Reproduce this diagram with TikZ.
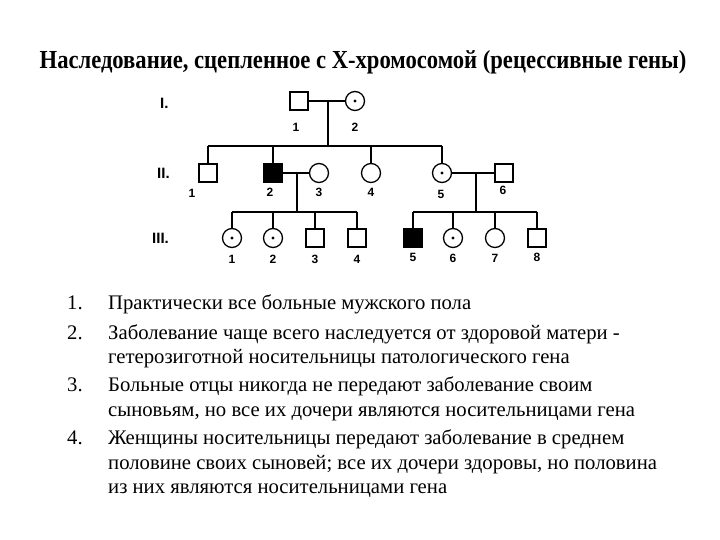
\documentclass[tikz,border=0pt]{standalone}
\usepackage{fontspec}
\setmainfont{Liberation Serif}
\newfontfamily\pedfont{Liberation Sans}
\usetikzlibrary{calc}
\begin{document}
\begin{tikzpicture}[x=1pt,y=-1pt,
  male/.style={draw, line width=1.3pt, minimum size=18pt, inner sep=0pt},
  affmale/.style={male, fill=black},
  female/.style={draw, line width=1.3pt, circle, minimum size=19pt, inner sep=0pt},
  carrier/.style={female, path picture={\fill (path picture bounding box.center) circle (1.7pt);}},
  lnk/.style={line width=1.8pt},
  num/.style={font=\pedfont\bfseries\fontsize{12}{12}\selectfont, inner sep=0pt},
  gen/.style={font=\pedfont\bfseries\fontsize{15}{15}\selectfont, inner sep=0pt, anchor=west},
  item/.style={font=\fontsize{20.7}{20.7}\selectfont, inner sep=0pt, anchor=base west}]
\useasboundingbox (0,0) rectangle (720,540);
% title
\node[inner sep=0pt] (title) at (363,62) {\scalebox{0.87}[1]{\fontsize{26}{26}\selectfont\bfseries Наследование, сцепленное с Х-хромосомой (рецессивные гены)}};
% generation labels
\node[gen] (g1) at (160,103) {I.};
\node[gen] (g2) at (157,173) {II.};
\node[gen] (g3) at (152,238) {III.};
% generation I
\node[male] (I1) at (299,101) {};
\node[carrier] (I2) at (355,101) {};
\node[num] (nI1) at (296,127) {1};
\node[num] (nI2) at (355,127) {2};
% generation II
\node[male] (II1) at (208,173) {};
\node[affmale] (II2) at (273,173) {};
\node[female] (II3) at (319,173) {};
\node[female] (II4) at (371,173) {};
\node[carrier] (II5) at (442,173) {};
\node[male] (II6) at (504,173) {};
\node[num] (nII1) at (192,193) {1};
\node[num] (nII2) at (270,192) {2};
\node[num] (nII3) at (319,192) {3};
\node[num] (nII4) at (371,192) {4};
\node[num] (nII5) at (441,194) {5};
\node[num] (nII6) at (503,190) {6};
% generation III
\node[carrier] (III1) at (232,238) {};
\node[carrier] (III2) at (273,238) {};
\node[male] (III3) at (315,238) {};
\node[male] (III4) at (357,238) {};
\node[affmale] (III5) at (413,238) {};
\node[carrier] (III6) at (453,238) {};
\node[female] (III7) at (495,238) {};
\node[male] (III8) at (537,238) {};
\node[num] (nIII1) at (232,259) {1};
\node[num] (nIII2) at (273,259) {2};
\node[num] (nIII3) at (315,259) {3};
\node[num] (nIII4) at (357,259) {4};
\node[num] (nIII5) at (413,257) {5};
\node[num] (nIII6) at (453,258) {6};
\node[num] (nIII7) at (495,258) {7};
\node[num] (nIII8) at (537,257) {8};
% connectors
\coordinate (m1) at (328,101);
\coordinate (s1) at (328,146);
\draw[lnk] (I1) -- (I2);
\draw[lnk] (m1) -- (s1);
\draw[lnk] (II1 |- s1) -- (II5 |- s1);
\foreach \c in {II1,II2,II4,II5} \draw[lnk] (\c |- s1) -- (\c);
\coordinate (m2) at (297,173);
\coordinate (s2) at (297,212);
\draw[lnk] (II2) -- (II3);
\draw[lnk] (m2) -- (s2);
\draw[lnk] (III1 |- s2) -- (III4 |- s2);
\foreach \c in {III1,III2,III3,III4} \draw[lnk] (\c |- s2) -- (\c);
\coordinate (m3) at (476,173);
\coordinate (s3) at (476,212);
\draw[lnk] (II5) -- (II6);
\draw[lnk] (m3) -- (s3);
\draw[lnk] (III5 |- s3) -- (III8 |- s3);
\foreach \c in {III5,III6,III7,III8} \draw[lnk] (\c |- s3) -- (\c);
% list
\node[item] (n1) at (67,309) {1.};
\node[item] (t1) at (108,309) {Практически все больные мужского пола};
\node[item] (n2) at (67,339) {2.};
\node[item] (t2) at (108,339) {Заболевание чаще всего наследуется от здоровой матери -};
\node[item] (t2b) at (108,363) {гетерозиготной носительницы патологического гена};
\node[item] (n3) at (67,391) {3.};
\node[item] (t3) at (108,391) {Больные отцы никогда не передают заболевание своим};
\node[item] (t3b) at (108,416) {сыновьям, но все их дочери являются носительницами гена};
\node[item] (n4) at (67,444) {4.};
\node[item] (t4) at (108,444) {Женщины носительницы передают заболевание в среднем};
\node[item] (t4b) at (108,469) {половине своих сыновей; все их дочери здоровы, но половина};
\node[item] (t4c) at (108,493) {из них являются носительницами гена};
\end{tikzpicture}
\end{document}
